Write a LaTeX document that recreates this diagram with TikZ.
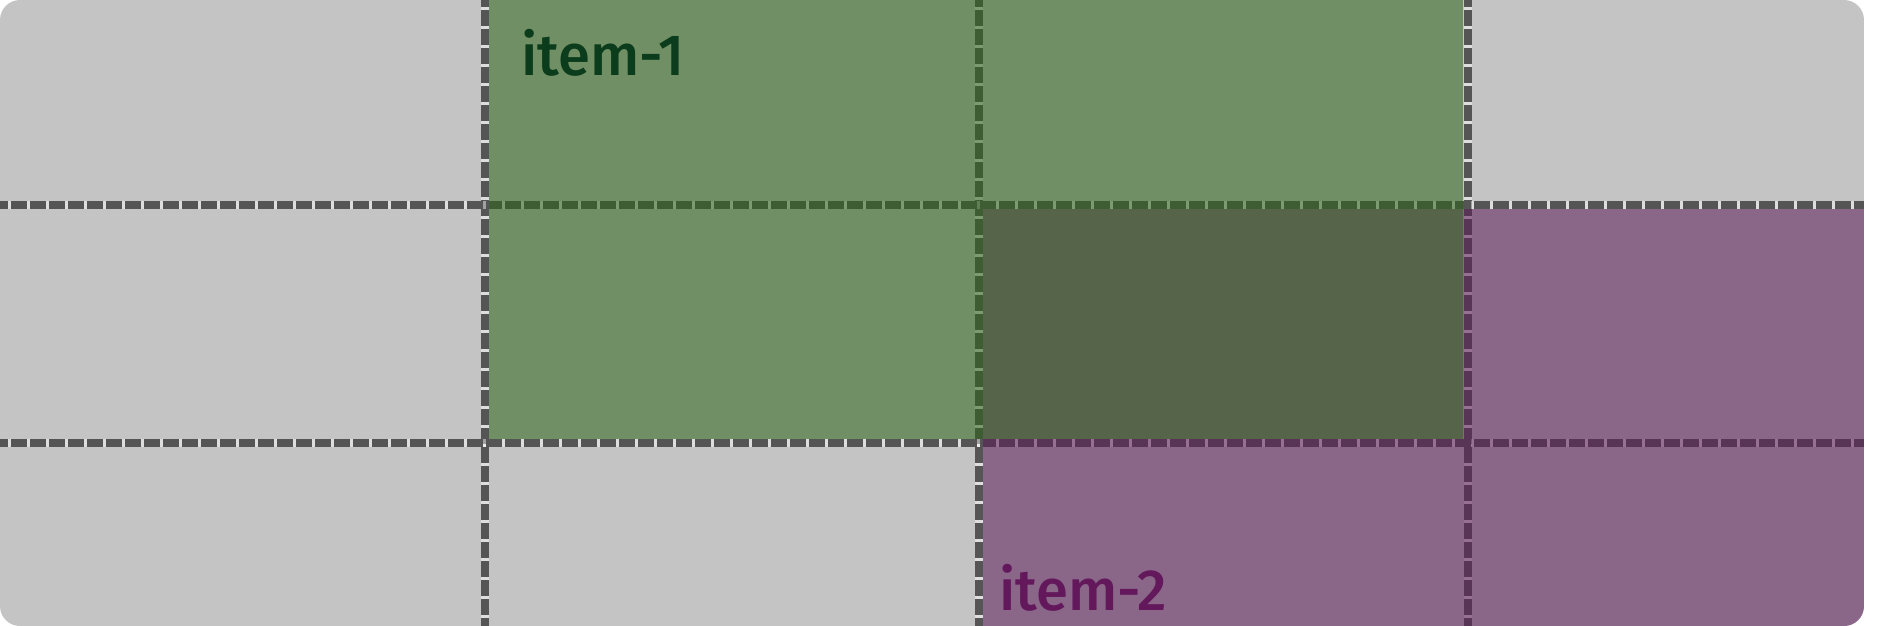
\documentclass[tikz,border=0pt]{standalone}
\usepackage{fontspec}
\setmainfont{Fira Sans}[UprightFont=* Medium]
\definecolor{bggrey}{RGB}{196,196,196}
\definecolor{dashgrey}{RGB}{85,85,85}
\definecolor{itemgreen}{RGB}{45,100,23}
\definecolor{itempurple}{RGB}{92,25,89}
\definecolor{txtgreen}{RGB}{11,60,27}
\definecolor{txtpurple}{RGB}{100,24,92}
\tikzset{
  gapunder/.style={line width=8pt, white, opacity=0.45},
  gapdash/.style={line width=8pt, dashgrey, dash pattern=on 16pt off 3pt},
  itemlabel/.style={anchor=base west, inner sep=0pt, font=\fontsize{58}{70}\selectfont}
}
\begin{document}
\begin{tikzpicture}[x=1pt,y=-1pt]
\useasboundingbox (0,0) rectangle (1890,626);
\begin{scope}
\clip[rounded corners=20pt] (0,0) rectangle (1864,626);
\fill[bggrey] (0,0) rectangle (1864,626);
% vertical grid gaps
\coordinate (v1t) at (485,0);   \coordinate (v1b) at (485,626);
\coordinate (v2t) at (979,0);   \coordinate (v2b) at (979,626);
\coordinate (v3t) at (1468,0);  \coordinate (v3b) at (1468,626);
\coordinate (h1l) at (0,205);   \coordinate (h1r) at (1864,205);
\coordinate (h2l) at (0,443);   \coordinate (h2r) at (1864,443);
\foreach \a/\b in {v1t/v1b,v2t/v2b,v3t/v3b}{
  \draw[gapunder] (\a) -- (\b);
  \draw[gapdash, dash phase=9pt] (\a) -- (\b);
}
\foreach \a/\b in {h1l/h1r,h2l/h2r}{
  \draw[gapunder] (\a) -- (\b);
  \draw[gapdash, dash phase=8pt] (\a) -- (\b);
}
% items
\fill[itempurple, opacity=0.55] (983,209) rectangle (1864,626);
\fill[itemgreen, opacity=0.55] (489,0) rectangle (1463,439);
\end{scope}
\node[itemlabel, text=txtgreen] (item1) at (521,75) {item-1};
\node[itemlabel, text=txtpurple] (item2) at (999,610) {item-2};
\end{tikzpicture}
\end{document}
